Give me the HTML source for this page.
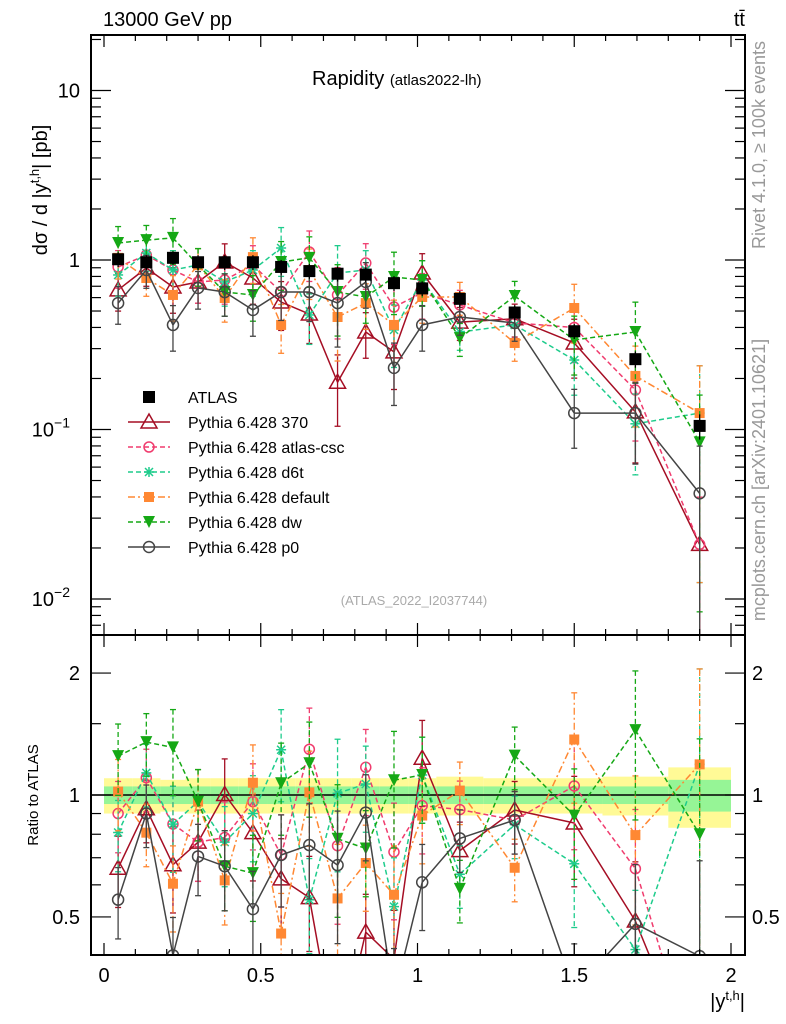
<!DOCTYPE html>
<html><head><meta charset="utf-8">
<style>
html,body{margin:0;padding:0;background:#fff;width:786px;height:1024px;overflow:hidden;}
svg{display:block;font-family:"Liberation Sans",sans-serif;}
</style></head>
<body>
<svg id="chart" width="786" height="1024" viewBox="0 0 786 1024" xmlns="http://www.w3.org/2000/svg">
<defs>
<clipPath id="clipMain"><rect x="91" y="35" width="654" height="600"/></clipPath>
<clipPath id="clipRatio"><rect x="91" y="635" width="654" height="320"/></clipPath>
</defs>
<text x="103" y="26" font-size="20">13000 GeV pp</text>
<text x="745" y="26" font-size="20" text-anchor="end">tt̄</text>
<text x="312" y="85" font-size="20">Rapidity <tspan font-size="15">(atlas2022-lh)</tspan></text>
<text transform="translate(47,190) rotate(-90)" font-size="20" text-anchor="middle">dσ / d |y<tspan font-size="13" dy="-8">t,h</tspan><tspan dy="8">| [pb]</tspan></text>
<text transform="translate(38,795) rotate(-90)" font-size="15" text-anchor="middle">Ratio to ATLAS</text>
<text x="745" y="1008" font-size="20" text-anchor="end">|y<tspan font-size="13" dy="-8">t,h</tspan><tspan dy="8">|</tspan></text>
<text transform="translate(765,145) rotate(-90)" font-size="18" fill="#999" text-anchor="middle">Rivet 4.1.0, ≥ 100k events</text>
<text transform="translate(765,480) rotate(-90)" font-size="18" fill="#999" text-anchor="middle">mcplots.cern.ch [arXiv:2401.10621]</text>
<text x="414" y="605" font-size="13" fill="#aaa" text-anchor="middle">(ATLAS_2022_I2037744)</text>
<g id="gBand" clip-path="url(#clipRatio)"></g>
<g id="gMain" clip-path="url(#clipMain)"></g>
<g id="gRatio" clip-path="url(#clipRatio)"></g>
<g id="gAxes"></g>
<g id="gLegend"></g>
</svg>
<script>
const binEdges=[0,0.09,0.18,0.26,0.34,0.43,0.52,0.61,0.70,0.79,0.88,0.97,1.06,1.21,1.41,1.59,1.80,2.0];
const atlasValues=[1.01,0.97,1.03,0.97,0.97,0.97,0.91,0.86,0.83,0.82,0.73,0.68,0.59,0.49,0.38,0.26,0.105];
const atlasStatRel=[0.05,0.05,0.05,0.05,0.05,0.05,0.05,0.05,0.05,0.05,0.05,0.05,0.05,0.05,0.05,0.05,0.09];
const atlasTotRel=[0.1,0.1,0.09,0.1,0.1,0.1,0.1,0.1,0.1,0.1,0.1,0.1,0.11,0.1,0.1,0.11,0.17];
const p370=[0.666,0.897,0.693,0.742,0.973,0.783,0.565,0.48,0.19,0.376,0.287,0.838,0.43,0.45,0.324,0.127,0.021];
const pCsc=[0.909,1.07,0.873,0.742,0.762,0.934,0.647,1.115,0.622,0.96,0.528,0.64,0.543,0.425,0.40,0.171,0.021];
const pD6t=[0.816,1.1,0.873,0.934,0.742,0.873,1.177,0.474,0.838,0.873,0.387,0.762,0.376,0.414,0.257,0.108,0.125];
const pDefault=[1.03,0.783,0.622,0.934,0.597,1.04,0.414,0.873,0.461,0.557,0.414,0.605,0.605,0.324,0.521,0.207,0.125];
const pDw=[1.26,1.31,1.35,0.934,0.647,0.622,0.973,1.03,0.647,0.605,0.794,0.762,0.346,0.613,0.338,0.376,0.084];
const pP0=[0.557,0.873,0.414,0.684,0.647,0.507,0.647,0.647,0.557,0.742,0.231,0.414,0.461,0.425,0.125,0.125,0.042];
const mcErrRel=[0.25,0.22,0.3,0.25,0.28,0.3,0.32,0.33,0.45,0.3,0.4,0.3,0.22,0.22,0.38,0.5,0.9];
const ratioTickValues=[0.5,1,2];
const ratioTickLabels=["0.5","1","2"];
const xTickValues=[0,0.5,1,1.5,2];
const xTickLabels=["0","0.5","1","1.5","2"];
const legendLabels=["ATLAS","Pythia 6.428 370","Pythia 6.428 atlas-csc","Pythia 6.428 d6t","Pythia 6.428 default","Pythia 6.428 dw","Pythia 6.428 p0"];

const NS="http://www.w3.org/2000/svg";
const X0=104,XS=313.5;
function xS(v){return X0+v*XS;}
function yMain(v){return 260-Math.log10(v)*169.5;}
function yRat(r){return 795-Math.log10(r)*405;}
function mk(tag,attrs,parent){const e=document.createElementNS(NS,tag);for(const k in attrs)e.setAttribute(k,attrs[k]);parent.appendChild(e);return e;}
function clampY(y,b){return Math.min(Math.max(y,b[0]),b[1]);}
function clipPathD(pts,b){
  let d='';
  for(let i=0;i<pts.length-1;i++){
    let [x1,y1]=pts[i],[x2,y2]=pts[i+1];
    if((y1<b[0]&&y2<b[0])||(y1>b[1]&&y2>b[1]))continue;
    const f=t=>[x1+(x2-x1)*t,y1+(y2-y1)*t];
    let t0=0,t1=1;
    if(y2!==y1){
      const ta=(b[0]-y1)/(y2-y1),tb=(b[1]-y1)/(y2-y1);
      t0=Math.max(0,Math.min(ta,tb));t1=Math.min(1,Math.max(ta,tb));
    }
    if(t0>t1)continue;
    const p=f(t0),q=f(t1);
    d+=`M${p[0].toFixed(2)},${p[1].toFixed(2)}L${q[0].toFixed(2)},${q[1].toFixed(2)}`;
  }
  return d;
}
const mids=atlasValues.map((_,i)=>(binEdges[i]+binEdges[i+1])/2);
const gMain=document.getElementById('gMain'),gRatio=document.getElementById('gRatio'),gBand=document.getElementById('gBand'),gAxes=document.getElementById('gAxes'),gLeg=document.getElementById('gLegend');

for(let i=0;i<atlasValues.length;i++){
  const x1=xS(binEdges[i]),x2=xS(binEdges[i+1]);
  const y=mk('rect',{x:x1,y:yRat(1+atlasTotRel[i]),width:x2-x1,height:yRat(1-atlasTotRel[i])-yRat(1+atlasTotRel[i]),fill:'#fffa96'},gBand);
  
  
  const g=mk('rect',{x:x1,y:yRat(1+atlasStatRel[i]),width:x2-x1,height:yRat(1-atlasStatRel[i])-yRat(1+atlasStatRel[i]),fill:'#96f596'},gBand);
  
  
}
const refLine=mk('line',{x1:91,x2:745,y1:795,y2:795,stroke:'#000','stroke-width':1.5},gBand);



function marker(kind,x,y,col,parent){
  if(kind==='sq')return mk('rect',{x:x-6,y:y-6,width:12,height:12,fill:col},parent);
  if(kind==='sqs')return mk('rect',{x:x-5,y:y-5,width:10,height:10,fill:col},parent);
  if(kind==='tri')return mk('polygon',{points:`${x},${y-8} ${x-8},${y+6} ${x+8},${y+6}`,fill:'#fff','fill-opacity':0,stroke:col,'stroke-width':1.5},parent);
  if(kind==='dtri')return mk('polygon',{points:`${x-6},${y-6} ${x+6},${y-6} ${x},${y+6}`,fill:col},parent);
  if(kind==='circ')return mk('circle',{cx:x,cy:y,r:5,fill:'none',stroke:col,'stroke-width':1.5},parent);
  if(kind==='circL')return mk('circle',{cx:x,cy:y,r:5.5,fill:'none',stroke:col,'stroke-width':1.5},parent);
  if(kind==='star'){const g=mk('g',{stroke:col,'stroke-width':1.5},parent);
    mk('line',{x1:x-5,x2:x+5,y1:y,y2:y},g);mk('line',{x1:x,x2:x,y1:y-5,y2:y+5},g);
    mk('line',{x1:x-4,x2:x+4,y1:y-4,y2:y+4},g);mk('line',{x1:x-4,x2:x+4,y1:y+4,y2:y-4},g);return g;}
}
const series=[
 {name:'pythia-370',vals:p370,col:'#a50e24',dash:'',mk:'tri'},
 {name:'pythia-atlas-csc',vals:pCsc,col:'#f03c6e',dash:'5,3',mk:'circ'},
 {name:'pythia-d6t',vals:pD6t,col:'#1ecc8c',dash:'5,3',mk:'star'},
 {name:'pythia-default',vals:pDefault,col:'#ff8833',dash:'7,3,2,3',mk:'sqs'},
 {name:'pythia-dw',vals:pDw,col:'#15a815',dash:'5,3',mk:'dtri'},
 {name:'pythia-p0',vals:pP0,col:'#444444',dash:'',mk:'circL'}
];
const mainBounds=[35,635],ratioBounds=[635,955];
function drawSeries(s,parent,yf,ratio){
  const b=ratio?ratioBounds:mainBounds;
  const g=mk('g',{},parent);
  
  
  const pts=s.vals.map((v,i)=>{const r=ratio?v/atlasValues[i]:v;return [xS(mids[i]),yf(r)];});
  const pl=mk('path',{d:clipPathD(pts,b),fill:'none',stroke:s.col,'stroke-width':1.5,'stroke-dasharray':s.dash},g);
  
  
  s.vals.forEach((v,i)=>{
    const base=ratio?v/atlasValues[i]:v;
    const e=mcErrRel[i]*(ratio?0.8:1);
    const yhr=yf(base*(1+e)),ylr=yf(Math.max(base*(1-e),1e-4));
    const yh=clampY(yhr,b),yl=clampY(ylr,b);
    const x=pts[i][0];
    if(yl>yh)mk('line',{x1:x,x2:x,y1:yh,y2:yl,stroke:s.col,'stroke-width':1.3,'stroke-dasharray':s.dash},g);
    if(yhr>=b[0]&&yhr<=b[1])mk('line',{x1:x-3,x2:x+3,y1:yh,y2:yh,stroke:s.col,'stroke-width':1.3},g);
    if(ylr>=b[0]&&ylr<=b[1])mk('line',{x1:x-3,x2:x+3,y1:yl,y2:yl,stroke:s.col,'stroke-width':1.3},g);
    const py=pts[i][1];
    if(py>=b[0]-2&&py<=b[1]+2){
      const m=marker(s.mk,x,py,s.col,g);
      
      
    }
  });
}
series.forEach(s=>drawSeries(s,gMain,yMain,false));
series.forEach(s=>drawSeries(s,gRatio,yRat,true));
const gA=mk('g',{},gMain);


atlasValues.forEach((v,i)=>{
  const x=xS(mids[i]);
  mk('line',{x1:x,x2:x,y1:yMain(v*(1+atlasTotRel[i])),y2:yMain(v*(1-atlasTotRel[i])),stroke:'#000','stroke-width':1.3},gA);
  const m=marker('sq',x,yMain(v),'#000',gA);
  
  
});

const f1=mk('rect',{x:91,y:35,width:654,height:600,fill:'none',stroke:'#000','stroke-width':2},gAxes);


const f2=mk('rect',{x:91,y:635,width:654,height:320,fill:'none',stroke:'#000','stroke-width':2},gAxes);


for(let k=0;k<=20;k++){
  const v=k/10,x=xS(v),maj=k%5===0,L=maj?12:6;
  [[35,1],[635,-1],[635,1],[955,-1]].forEach(([y,d])=>mk('line',{x1:x,x2:x,y1:y,y2:y+d*L,stroke:'#000','stroke-width':1.2},gAxes));
}
for(let i=0;i<xTickValues.length;i++){
  const t=mk('text',{x:xS(xTickValues[i]),y:982,'font-size':20,'text-anchor':'middle'},gAxes);
  t.textContent=xTickLabels[i];
  
  
}
for(let e=-3;e<=1;e++){for(let m=1;m<=9;m++){
  const v=m*Math.pow(10,e),y=yMain(v);if(y<35||y>635)continue;
  const L=m===1?20:10;
  mk('line',{x1:91,x2:91+L,y1:y,y2:y,stroke:'#000','stroke-width':1.2},gAxes);
  mk('line',{x1:745,x2:745-L,y1:y,y2:y,stroke:'#000','stroke-width':1.2},gAxes);
}}
[[10,'10',''],[1,'1',''],[0.1,'10','−1'],[0.01,'10','−2']].forEach(([v,b,ex])=>{
  const t=mk('text',{x:ex?70:80,y:yMain(v)+7,'font-size':20,'text-anchor':'end'},gAxes);
  t.textContent=b;
  if(ex){const s=mk('tspan',{dy:-9,'font-size':14},t);s.textContent=ex;}
  
  
});
[0.5,0.6,0.7,0.8,0.9,1,1.5,2].forEach(v=>{
  const y=yRat(v),maj=ratioTickValues.includes(v),L=maj?20:10;
  mk('line',{x1:91,x2:91+L,y1:y,y2:y,stroke:'#000','stroke-width':1.2},gAxes);
  mk('line',{x1:745,x2:745-L,y1:y,y2:y,stroke:'#000','stroke-width':1.2},gAxes);
});
ratioTickValues.forEach((v,i)=>{
  const t=mk('text',{x:80,y:yRat(v)+7,'font-size':20,'text-anchor':'end'},gAxes);
  t.textContent=ratioTickLabels[i];
  
  
  const t2=mk('text',{x:752,y:yRat(v)+7,'font-size':20},gAxes);
  t2.textContent=ratioTickLabels[i];
  
  
});
const legStyles=[{col:'#000',dash:'',mk:'sq',line:false}].concat(series.map(s=>({col:s.col,dash:s.dash,mk:s.mk,line:true})));
legendLabels.forEach((lab,i)=>{
  const y=397+i*25;
  const g=mk('g',{},gLeg);
  
  
  const st=legStyles[i];
  if(st.line)mk('line',{x1:128,x2:170,y1:y,y2:y,stroke:st.col,'stroke-width':1.5,'stroke-dasharray':st.dash},g);
  marker(st.mk,149,y,st.col,g);
  const t=mk('text',{x:188,y:y+6,'font-size':16},g);
  t.textContent=lab;
});
</script>
</body></html>
